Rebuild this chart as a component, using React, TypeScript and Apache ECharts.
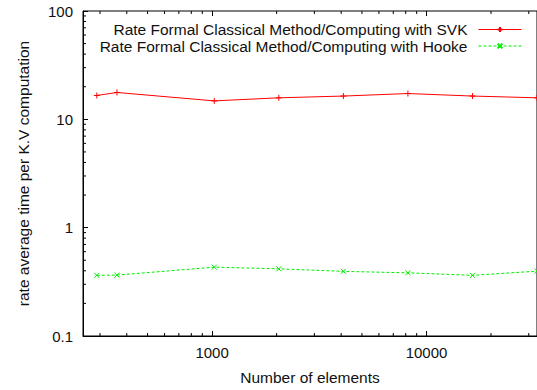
import React, { useEffect, useRef } from "react";
import * as echarts from "echarts";

const elements = [290, 360, 1024, 2048, 4096, 8192, 16384, 32768];
const svkRate = [16.6, 17.7, 14.8, 15.8, 16.4, 17.3, 16.4, 15.8];
const hookeRate = [0.363, 0.365, 0.432, 0.417, 0.395, 0.383, 0.363, 0.397];
const seriesNames = [
  "Rate Formal Classical Method/Computing with SVK",
  "Rate Formal Classical Method/Computing with Hooke",
];
const X_MIN = 250;
const X_MAX = 32768;
const Y_MIN = 0.1;
const Y_MAX = 100;
const xMinorTicks = [300, 400, 500, 600, 700, 800, 900, 2000, 3000, 4000, 5000, 6000, 7000, 8000, 9000, 20000, 30000];
const yMinorTicks = [0.2, 0.3, 0.4, 0.5, 0.6, 0.7, 0.8, 0.9, 2, 3, 4, 5, 6, 7, 8, 9, 20, 30, 40, 50, 60, 70, 80, 90];

const FONT = "'Liberation Sans', Arial, sans-serif";
const RED = "#ff0000";
const GREEN = "#00ee00";

const decadeLabel = (v: number) => {
  const l = Math.log10(v);
  if (Math.abs(l - Math.round(l)) > 1e-6) return "";
  return String(parseFloat(v.toPrecision(3)));
};

export default function App() {
  const ref = useRef<HTMLDivElement>(null);
  useEffect(() => {
    if (!ref.current) return;
    const chart = echarts.init(ref.current, null, { renderer: "svg" });
    const tickStyle = { stroke: "#000", lineWidth: 1 };
    chart.setOption({
      animation: false,
      backgroundColor: "#fff",
      textStyle: { fontFamily: FONT },
      grid: {
        left: 83,
        top: 11,
        right: -3,
        bottom: 52,
        show: true,
        borderColor: "#000",
        borderWidth: 1,
      },
      legend: {
        data: seriesNames,
        orient: "vertical",
        align: "right",
        right: 10,
        top: 16.5,
        itemWidth: 43,
        itemHeight: 6,
        itemGap: 0.5,
        lineStyle: { width: 1 },
        textStyle: {
          fontFamily: FONT,
          fontSize: 15.5,
          color: "#111",
          lineHeight: 15,
          padding: [0, 6, 0, 0],
        },
      },
      xAxis: [
        {
          type: "log",
          logBase: 10,
          min: X_MIN,
          max: X_MAX,
          name: "Number of elements",
          nameLocation: "middle",
          nameGap: 33,
          nameTextStyle: { fontSize: 15.5, color: "#111", fontFamily: FONT },
          axisLine: { show: true, lineStyle: { color: "#000", width: 1 } },
          axisTick: { show: true, inside: true, length: 5, lineStyle: { color: "#000" } },
          axisLabel: {
            formatter: decadeLabel,
            fontSize: 15,
            color: "#111",
            margin: 9,
            fontFamily: FONT,
            showMinLabel: false,
            showMaxLabel: false,
          },
          splitLine: { show: false },
        },
        {
          type: "log",
          logBase: 10,
          min: X_MIN,
          max: X_MAX,
          position: "top",
          axisLine: { show: false },
          axisTick: { show: true, inside: true, length: 5, lineStyle: { color: "#000" } },
          axisLabel: { show: false },
          splitLine: { show: false },
        },
      ],
      yAxis: {
        type: "log",
        logBase: 10,
        min: Y_MIN,
        max: Y_MAX,
        name: "rate average time per K.V computation",
        nameLocation: "middle",
        nameGap: 52,
        nameTextStyle: { fontSize: 15.5, color: "#111", fontFamily: FONT },
        axisLine: { show: true, lineStyle: { color: "#000", width: 1 } },
        axisTick: { show: true, inside: true, length: 5, lineStyle: { color: "#000" } },
        axisLabel: {
          formatter: decadeLabel,
          fontSize: 15,
          color: "#111",
          margin: 10,
          fontFamily: FONT,
        },
        splitLine: { show: false },
      },
      series: [
        {
          name: seriesNames[0],
          type: "line",
          data: elements.map((x, i) => [x, svkRate[i]]),
          symbol: "path://M0,5L10,5M5,0L5,10",
          symbolSize: 6,
          showSymbol: true,
          itemStyle: { color: RED, borderColor: RED, borderWidth: 1 },
          lineStyle: { color: RED, width: 1 },
          emphasis: { disabled: true },
        },
        {
          name: seriesNames[1],
          type: "line",
          data: elements.map((x, i) => [x, hookeRate[i]]),
          symbol: "path://M0,0L10,10M10,0L0,10",
          symbolSize: 5,
          showSymbol: true,
          itemStyle: { color: GREEN, borderColor: GREEN, borderWidth: 1 },
          lineStyle: { color: GREEN, width: 1, type: [3, 2] },
          emphasis: { disabled: true },
        },
        {
          type: "custom",
          name: "xminor",
          silent: true,
          clip: false,
          data: xMinorTicks.map((v) => [v, Y_MIN]),
          renderItem: (params: any, api: any) => {
            const v = api.value(0);
            const b = api.coord([v, Y_MIN]);
            const t = api.coord([v, Y_MAX]);
            return {
              type: "group",
              children: [
                { type: "line", shape: { x1: b[0], y1: b[1], x2: b[0], y2: b[1] - 3 }, style: tickStyle },
                { type: "line", shape: { x1: t[0], y1: t[1], x2: t[0], y2: t[1] + 3 }, style: tickStyle },
              ],
            };
          },
        },
        {
          type: "custom",
          name: "yminor",
          silent: true,
          clip: false,
          data: yMinorTicks.map((v) => [X_MIN, v]),
          renderItem: (params: any, api: any) => {
            const v = api.value(1);
            const p = api.coord([X_MIN, v]);
            return {
              type: "line",
              shape: { x1: p[0], y1: p[1], x2: p[0] + 3, y2: p[1] },
              style: tickStyle,
            };
          },
        },
      ],
    });
    return () => chart.dispose();
  }, []);
  return (
    <div
      ref={ref}
      style={{ position: "fixed", left: 0, top: 0, width: 537, height: 390, background: "#fff" }}
    />
  );
}
